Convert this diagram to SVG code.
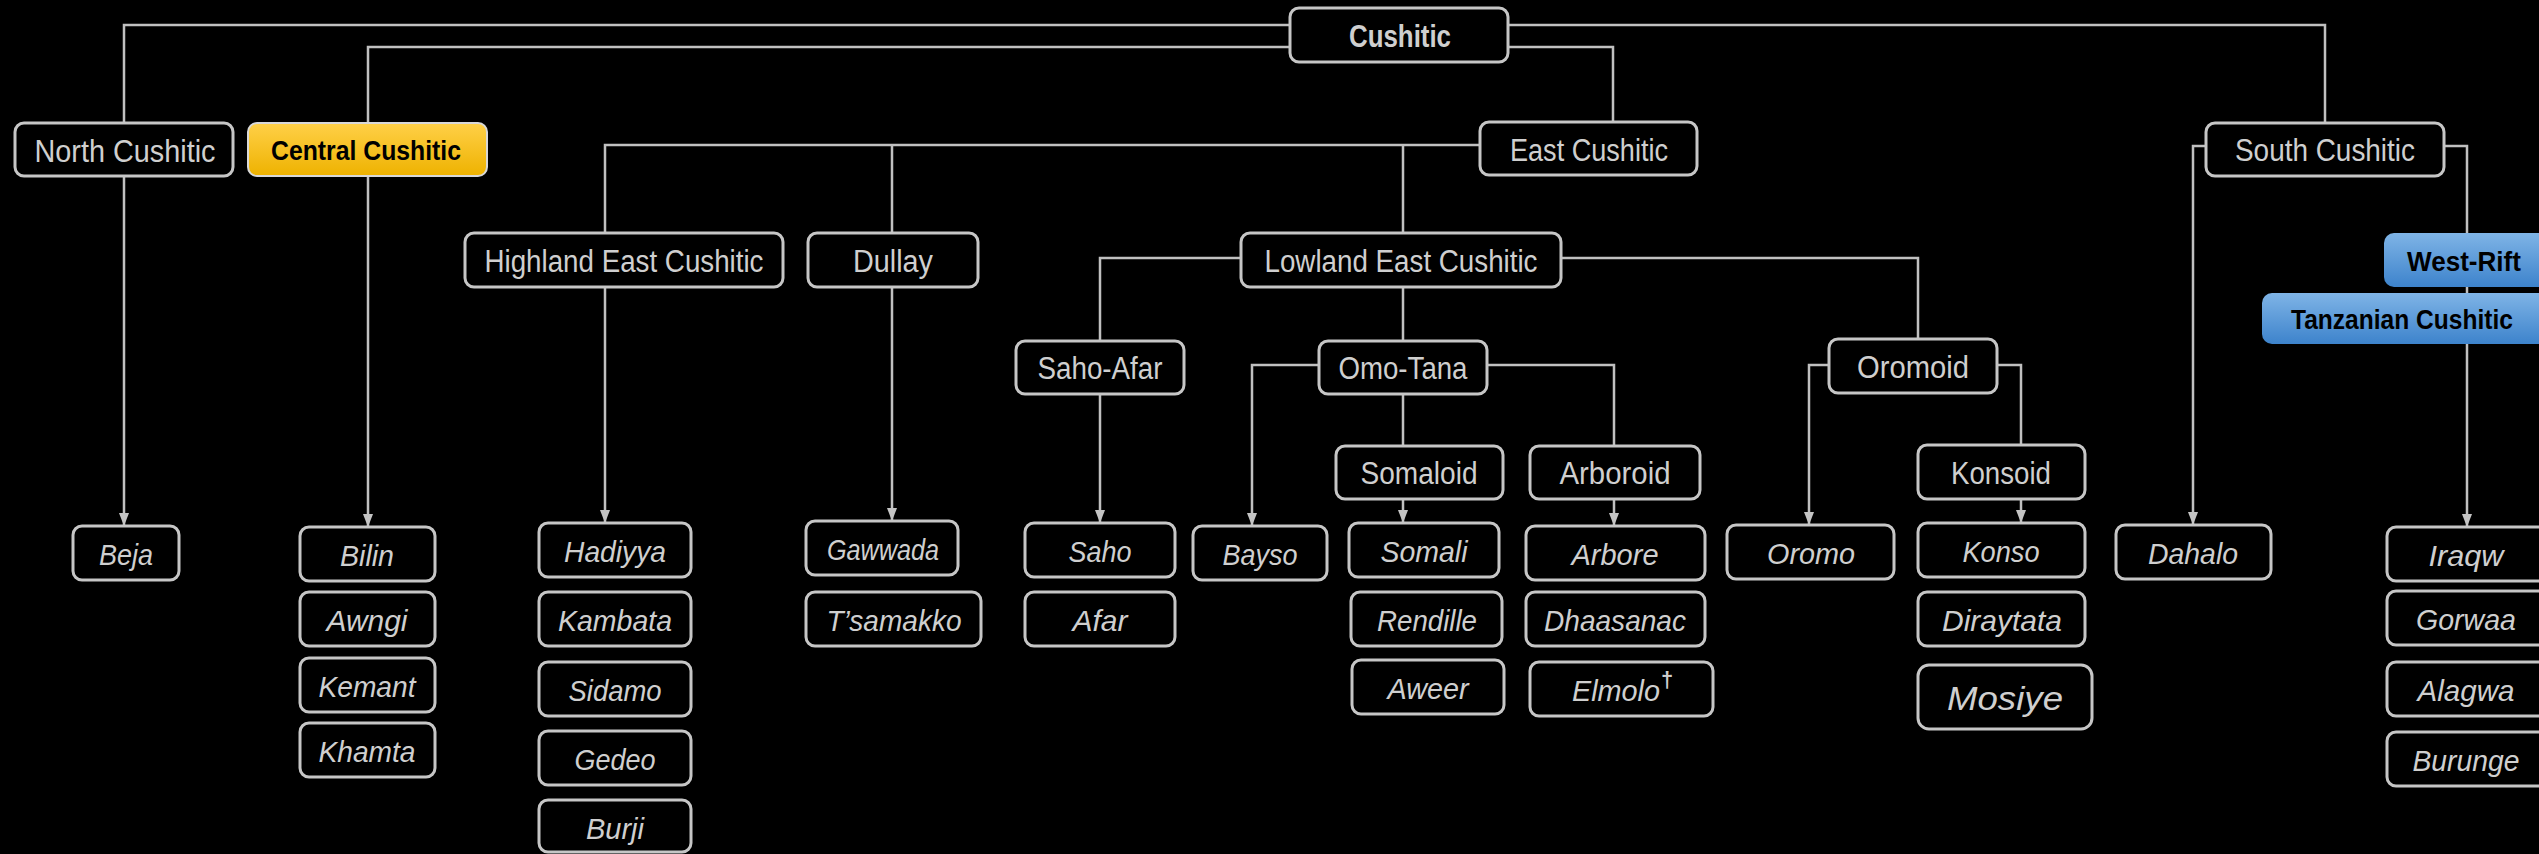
<svg xmlns="http://www.w3.org/2000/svg" width="2539" height="854" viewBox="0 0 2539 854">
<defs>
<linearGradient id="gold" x1="0" y1="0" x2="0" y2="1"><stop offset="0" stop-color="#ffd048"/><stop offset="1" stop-color="#eeb200"/></linearGradient>
<linearGradient id="blue" x1="0" y1="0" x2="0" y2="1"><stop offset="0" stop-color="#7fb4e6"/><stop offset="1" stop-color="#3d83cc"/></linearGradient>
<marker id="arr" markerUnits="userSpaceOnUse" markerWidth="14" markerHeight="12" refX="13" refY="6" orient="auto" viewBox="0 0 14 12">
<path d="M0,1 L13,6 L0,11 Z" fill="#c4c4c4"/>
</marker>
<style>
.b{fill:#000;stroke:#c6c6c6;stroke-width:3}
.t{font-family:"Liberation Sans",Arial,sans-serif;font-size:31px;fill:#cfcfcf;text-anchor:middle}
.l{font-family:"Liberation Sans",Arial,sans-serif;font-size:30px;font-style:italic;fill:#cfcfcf;text-anchor:middle}
.bd{font-family:"Liberation Sans",Arial,sans-serif;font-size:28px;font-weight:bold;fill:#000;text-anchor:middle}
.c{fill:none;stroke:#c0c0c0;stroke-width:2.5}
.a{fill:none;stroke:#c0c0c0;stroke-width:2.5;marker-end:url(#arr)}
</style>
</defs>
<rect x="0" y="0" width="2539" height="854" fill="#000"/>
<g id="connectors">
<path class="c" d="M1290,25 H124 V123"/>
<path class="c" d="M1290,47 H368 V123"/>
<path class="c" d="M1508,25 H2325 V123"/>
<path class="c" d="M1508,47 H1613 V122"/>
<path class="a" d="M124,176 V526"/>
<path class="a" d="M368,176 V527"/>
<path class="c" d="M1480,145 H605 V233"/>
<path class="c" d="M892,145 V233"/>
<path class="c" d="M1403,145 V233"/>
<path class="a" d="M605,287 V523"/>
<path class="a" d="M892,287 V521"/>
<path class="c" d="M1241,258 H1100 V341"/>
<path class="c" d="M1561,258 H1918 V339"/>
<path class="c" d="M1403,287 V341"/>
<path class="a" d="M1100,394 V523"/>
<path class="a" d="M1319,365 H1252 V526"/>
<path class="c" d="M1487,365 H1614 V446"/>
<path class="c" d="M1403,394 V446"/>
<path class="a" d="M1403,499 V523"/>
<path class="a" d="M1614,499 V526"/>
<path class="a" d="M1829,365 H1809 V525"/>
<path class="c" d="M1997,365 H2021 V445"/>
<path class="a" d="M2021,499 V523"/>
<path class="a" d="M2206,146 H2193 V525"/>
<path class="a" d="M2444,146 H2467 V527"/>
</g>
<g id="cushitic"><rect class="b" x="1290" y="8" width="218" height="54" rx="9"/><text class="t" x="1400" y="47" font-weight="bold" textLength="102" lengthAdjust="spacingAndGlyphs">Cushitic</text></g>
<g id="north-cushitic"><rect class="b" x="15" y="123" width="218" height="53" rx="9"/><text class="t" x="125" y="162" textLength="181" lengthAdjust="spacingAndGlyphs">North Cushitic</text></g>
<g id="central-cushitic"><rect x="248" y="123" width="239" height="53" rx="9" fill="url(#gold)" stroke="#d8d8d8" stroke-width="2"/><text class="bd" x="366" y="160" textLength="190" lengthAdjust="spacingAndGlyphs">Central Cushitic</text></g>
<g id="east-cushitic"><rect class="b" x="1480" y="122" width="217" height="53" rx="9"/><text class="t" x="1589" y="161" textLength="158" lengthAdjust="spacingAndGlyphs">East Cushitic</text></g>
<g id="south-cushitic"><rect class="b" x="2206" y="123" width="238" height="53" rx="9"/><text class="t" x="2325" y="161" textLength="180" lengthAdjust="spacingAndGlyphs">South Cushitic</text></g>
<g id="highland-east-cushitic"><rect class="b" x="465" y="233" width="318" height="54" rx="9"/><text class="t" x="624" y="272" textLength="279" lengthAdjust="spacingAndGlyphs">Highland East Cushitic</text></g>
<g id="dullay"><rect class="b" x="808" y="233" width="170" height="54" rx="9"/><text class="t" x="893" y="272" textLength="80" lengthAdjust="spacingAndGlyphs">Dullay</text></g>
<g id="lowland-east-cushitic"><rect class="b" x="1241" y="233" width="320" height="54" rx="9"/><text class="t" x="1401" y="272" textLength="273" lengthAdjust="spacingAndGlyphs">Lowland East Cushitic</text></g>
<g id="saho-afar"><rect class="b" x="1016" y="341" width="168" height="53" rx="9"/><text class="t" x="1100" y="379" textLength="125" lengthAdjust="spacingAndGlyphs">Saho-Afar</text></g>
<g id="omo-tana"><rect class="b" x="1319" y="341" width="168" height="53" rx="9"/><text class="t" x="1403" y="379" textLength="129" lengthAdjust="spacingAndGlyphs">Omo-Tana</text></g>
<g id="oromoid"><rect class="b" x="1829" y="339" width="168" height="54" rx="9"/><text class="t" x="1913" y="378" textLength="112" lengthAdjust="spacingAndGlyphs">Oromoid</text></g>
<g id="somaloid"><rect class="b" x="1336" y="446" width="167" height="53" rx="9"/><text class="t" x="1419" y="484" textLength="117" lengthAdjust="spacingAndGlyphs">Somaloid</text></g>
<g id="arboroid"><rect class="b" x="1530" y="446" width="170" height="53" rx="9"/><text class="t" x="1615" y="484" textLength="111" lengthAdjust="spacingAndGlyphs">Arboroid</text></g>
<g id="konsoid"><rect class="b" x="1918" y="445" width="167" height="54" rx="9"/><text class="t" x="2001" y="484" textLength="100" lengthAdjust="spacingAndGlyphs">Konsoid</text></g>
<g id="west-rift"><rect x="2384" y="233" width="170" height="54" rx="10" fill="url(#blue)"/><text class="bd" x="2464" y="271" textLength="114" lengthAdjust="spacingAndGlyphs">West-Rift</text></g>
<g id="tanzanian-cushitic"><rect x="2262" y="293" width="290" height="51" rx="10" fill="url(#blue)"/><text class="bd" x="2402" y="329" textLength="222" lengthAdjust="spacingAndGlyphs">Tanzanian Cushitic</text></g>
<g id="beja"><rect class="b" x="73" y="526" width="106" height="54" rx="9"/><text class="l" x="126" y="565" textLength="54" lengthAdjust="spacingAndGlyphs">Beja</text></g>
<g id="bilin"><rect class="b" x="300" y="527" width="135" height="54" rx="9"/><text class="l" x="367" y="566" textLength="54" lengthAdjust="spacingAndGlyphs">Bilin</text></g>
<g id="awngi"><rect class="b" x="300" y="592" width="135" height="54" rx="9"/><text class="l" x="367" y="631" textLength="81" lengthAdjust="spacingAndGlyphs">Awngi</text></g>
<g id="kemant"><rect class="b" x="300" y="658" width="135" height="54" rx="9"/><text class="l" x="367" y="697" textLength="97" lengthAdjust="spacingAndGlyphs">Kemant</text></g>
<g id="khamta"><rect class="b" x="300" y="723" width="135" height="54" rx="9"/><text class="l" x="367" y="762" textLength="97" lengthAdjust="spacingAndGlyphs">Khamta</text></g>
<g id="hadiyya"><rect class="b" x="539" y="523" width="152" height="54" rx="9"/><text class="l" x="615" y="562" textLength="102" lengthAdjust="spacingAndGlyphs">Hadiyya</text></g>
<g id="kambata"><rect class="b" x="539" y="592" width="152" height="54" rx="9"/><text class="l" x="615" y="631" textLength="114" lengthAdjust="spacingAndGlyphs">Kambata</text></g>
<g id="sidamo"><rect class="b" x="539" y="662" width="152" height="54" rx="9"/><text class="l" x="615" y="701" textLength="93" lengthAdjust="spacingAndGlyphs">Sidamo</text></g>
<g id="gedeo"><rect class="b" x="539" y="731" width="152" height="54" rx="9"/><text class="l" x="615" y="770" textLength="81" lengthAdjust="spacingAndGlyphs">Gedeo</text></g>
<g id="burji"><rect class="b" x="539" y="800" width="152" height="52" rx="9"/><text class="l" x="615" y="839" textLength="58" lengthAdjust="spacingAndGlyphs">Burji</text></g>
<g id="gawwada"><rect class="b" x="806" y="521" width="152" height="54" rx="9"/><text class="l" x="883" y="560" textLength="112" lengthAdjust="spacingAndGlyphs">Gawwada</text></g>
<g id="tsamakko"><rect class="b" x="806" y="592" width="175" height="54" rx="9"/><text class="l" x="894" y="631" textLength="135" lengthAdjust="spacingAndGlyphs">T’samakko</text></g>
<g id="saho"><rect class="b" x="1025" y="523" width="150" height="54" rx="9"/><text class="l" x="1100" y="562" textLength="63" lengthAdjust="spacingAndGlyphs">Saho</text></g>
<g id="afar"><rect class="b" x="1025" y="592" width="150" height="54" rx="9"/><text class="l" x="1100" y="631" textLength="55" lengthAdjust="spacingAndGlyphs">Afar</text></g>
<g id="bayso"><rect class="b" x="1193" y="526" width="134" height="54" rx="9"/><text class="l" x="1260" y="565" textLength="75" lengthAdjust="spacingAndGlyphs">Bayso</text></g>
<g id="somali"><rect class="b" x="1349" y="523" width="150" height="54" rx="9"/><text class="l" x="1424" y="562" textLength="87" lengthAdjust="spacingAndGlyphs">Somali</text></g>
<g id="rendille"><rect class="b" x="1351" y="592" width="151" height="54" rx="9"/><text class="l" x="1427" y="631" textLength="100" lengthAdjust="spacingAndGlyphs">Rendille</text></g>
<g id="aweer"><rect class="b" x="1352" y="660" width="152" height="54" rx="9"/><text class="l" x="1428" y="699" textLength="81" lengthAdjust="spacingAndGlyphs">Aweer</text></g>
<g id="arbore"><rect class="b" x="1526" y="526" width="179" height="54" rx="9"/><text class="l" x="1615" y="565" textLength="87" lengthAdjust="spacingAndGlyphs">Arbore</text></g>
<g id="dhaasanac"><rect class="b" x="1526" y="592" width="179" height="54" rx="9"/><text class="l" x="1615" y="631" textLength="142" lengthAdjust="spacingAndGlyphs">Dhaasanac</text></g>
<g id="elmolo"><rect class="b" x="1530" y="662" width="183" height="54" rx="9"/><text class="l" x="1616" y="701" textLength="88" lengthAdjust="spacingAndGlyphs">Elmolo</text><text class="l" x="1667" y="687" style="font-size:22px;font-style:normal;font-weight:bold">†</text></g>
<g id="oromo"><rect class="b" x="1727" y="525" width="167" height="54" rx="9"/><text class="l" x="1811" y="564" textLength="88" lengthAdjust="spacingAndGlyphs">Oromo</text></g>
<g id="konso"><rect class="b" x="1918" y="523" width="167" height="54" rx="9"/><text class="l" x="2001" y="562" textLength="77" lengthAdjust="spacingAndGlyphs">Konso</text></g>
<g id="diraytata"><rect class="b" x="1918" y="592" width="167" height="54" rx="9"/><text class="l" x="2002" y="631" textLength="120" lengthAdjust="spacingAndGlyphs">Diraytata</text></g>
<g id="mosiye"><rect class="b" x="1918" y="665" width="174" height="64" rx="11"/><text class="l" x="2005" y="710" style="font-size:33px" textLength="116" lengthAdjust="spacingAndGlyphs">Mosiye</text></g>
<g id="dahalo"><rect class="b" x="2116" y="525" width="155" height="54" rx="9"/><text class="l" x="2193" y="564" textLength="90" lengthAdjust="spacingAndGlyphs">Dahalo</text></g>
<g id="iraqw"><rect class="b" x="2387" y="527" width="165" height="54" rx="9"/><text class="l" x="2466" y="566" textLength="75" lengthAdjust="spacingAndGlyphs">Iraqw</text></g>
<g id="gorwaa"><rect class="b" x="2387" y="591" width="165" height="54" rx="9"/><text class="l" x="2466" y="630" textLength="100" lengthAdjust="spacingAndGlyphs">Gorwaa</text></g>
<g id="alagwa"><rect class="b" x="2387" y="662" width="165" height="54" rx="9"/><text class="l" x="2466" y="701" textLength="97" lengthAdjust="spacingAndGlyphs">Alagwa</text></g>
<g id="burunge"><rect class="b" x="2387" y="732" width="165" height="54" rx="9"/><text class="l" x="2466" y="771" textLength="107" lengthAdjust="spacingAndGlyphs">Burunge</text></g>
</svg>
